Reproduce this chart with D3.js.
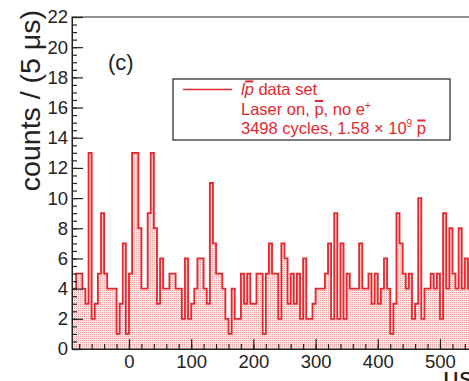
<!DOCTYPE html>
<html><head><meta charset="utf-8">
<script src="https://cdn.jsdelivr.net/npm/d3@7"></script>
<style>
body{margin:0;background:#fff;overflow:hidden}
svg{display:block;font-family:"Liberation Sans",Arial,Helvetica,sans-serif}
</style>
</head><body>
<svg id="chart" width="469" height="381"></svg>
<script>
// ---- data ----
const binStart = -95;          // μs, lower edge of first bin
const binWidth = 5;            // μs
const counts = [
  4, 4, 5, 5, 4, 3,13, 2, 3, 5, 9, 5, 4, 4, 4, 1, 3, 7, 1,   // -95 .. -5
  5,13,13, 8, 4, 4, 9,13, 8, 3, 6, 4, 4, 5, 5, 4, 4, 2, 6, 2, // 0 .. 95
  3, 4, 6, 6, 4, 3,11, 7, 5, 5, 4, 2, 1, 4, 2, 2, 5, 3, 5, 3, // 100 .. 195
  3, 5, 5, 1, 5, 7, 5, 5, 2, 7, 6, 3, 5, 3, 5, 2, 6, 2, 2, 3, // 200 .. 295
  4, 4, 4, 5, 7, 2, 9, 2, 7, 2, 5, 4, 4, 4, 7, 4, 4, 5, 3, 5, // 300 .. 395
  3, 4, 6, 4, 1, 3, 9, 7, 5, 4, 5, 2, 3,10, 2, 4, 4, 5, 4, 5, // 400 .. 495
  2, 9, 4, 8, 5, 4, 8, 4, 6, 4, 4, 5                          // 500 .. 555
];
const yMajor = [0,2,4,6,8,10,12,14,16,18,20,22];
const xMajor = [0,100,200,300,400,500,600];
const legendLines = ["data set", "Laser on, ", "3498 cycles, 1.58 × 10"];

// ---- layout ----
const svg = d3.select("#chart");
const L = 72, T = 17, B = 349;
const xMin = -91.6, xMax = 620;
const x = d3.scaleLinear().domain([xMin, xMax]).range([L, L + 0.622 * (xMax - xMin)]);
const y = d3.scaleLinear().domain([0, 22]).range([B, T]);
const R = x(xMax);
const red = "#e5262d";
const ink = "#222";

// dotted fill pattern
const defs = svg.append("defs");
const pat = defs.append("pattern").attr("id","dots").attr("patternUnits","userSpaceOnUse")
  .attr("width",2).attr("height",2);
pat.append("rect").attr("width",2).attr("height",2).attr("fill","#fbe6e6");
pat.append("rect").attr("width",1).attr("height",1).attr("fill","#ef9f9f");
defs.append("clipPath").attr("id","plot").append("rect")
  .attr("x",L).attr("y",T).attr("width",R-L).attr("height",B-T);

// histogram
const pts = counts.map((c,i)=>({e: binStart + i*binWidth, c}));
pts.push({e: binStart + counts.length*binWidth, c: counts[counts.length-1]});
const g = svg.append("g").attr("clip-path","url(#plot)");
g.append("path").datum(pts)
  .attr("d", d3.area().curve(d3.curveStepAfter).x(d=>x(d.e)).y0(y(0)).y1(d=>y(d.c)))
  .attr("fill","url(#dots)");
g.append("path").datum(pts)
  .attr("d", d3.line().curve(d3.curveStepAfter).x(d=>x(d.e)).y(d=>y(d.c)))
  .attr("fill","none").attr("stroke",red).attr("stroke-width",1.8);

// frame
svg.append("rect").attr("x",L).attr("y",T).attr("width",R-L).attr("height",B-T)
  .attr("fill","none").attr("stroke",ink).attr("stroke-width",1);

// y axis
const yMinor = d3.range(0, 22.01, 0.5);
svg.append("g").attr("transform",`translate(${L},0)`)
  .call(d3.axisLeft(y).tickValues(yMinor).tickSizeInner(-5).tickSizeOuter(0).tickFormat(""));
svg.append("g").attr("transform",`translate(${L},0)`)
  .call(d3.axisLeft(y).tickValues(yMajor).tickSizeInner(-11).tickSizeOuter(0).tickPadding(4).tickFormat(d3.format("d")));
// x axis
const xMinor = d3.range(-80, 601, 20);
svg.append("g").attr("transform",`translate(0,${B})`)
  .call(d3.axisBottom(x).tickValues(xMinor).tickSizeInner(-5).tickSizeOuter(0).tickFormat(""));
svg.append("g").attr("transform",`translate(0,${B})`)
  .call(d3.axisBottom(x).tickValues(xMajor).tickSizeInner(-10).tickSizeOuter(0).tickPadding(6).tickFormat(d3.format("d")));
svg.selectAll(".domain").attr("stroke",ink);
svg.selectAll(".tick line").attr("stroke",ink).attr("stroke-width",1.2);
svg.selectAll(".tick text").attr("fill",ink).attr("font-size",18.5)
  .attr("font-family",'"Liberation Sans",Arial,sans-serif');

// axis titles
svg.append("text").attr("transform","translate(40,10) rotate(-90)")
  .attr("text-anchor","end").attr("font-size",28.5).attr("fill",ink)
  .text("counts / (5 μs)");
svg.append("text").attr("x",443).attr("y",387).attr("font-size",28).attr("fill",ink).text("μs");

// panel label
svg.append("text").attr("x",108).attr("y",70).attr("font-size",22).attr("fill",ink).text("(c)");

// legend
svg.append("rect").attr("x",173).attr("y",79).attr("width",277).attr("height",61)
  .attr("fill","#fff").attr("stroke",ink).attr("stroke-width",1.2);
svg.append("line").attr("x1",183).attr("x2",232).attr("y1",89.5).attr("y2",89.5)
  .attr("stroke",red).attr("stroke-width",1.6);

const fs = 16.5;
const lg = svg.append("g").attr("fill",red).attr("font-size",fs);
const bars = [];
// line 1
const t1 = lg.append("text").attr("x",241).attr("y",95);
t1.append("tspan").attr("font-style","italic").text("lp");
t1.append("tspan").text(" " + legendLines[0]);
bars.push([t1, 1]);
// line 2
const t2 = lg.append("text").attr("x",241).attr("y",114.5);
t2.append("tspan").text(legendLines[1]);
t2.append("tspan").text("p");
t2.append("tspan").text(", no e");
t2.append("tspan").attr("font-size",10).attr("dy",-6).text("+");
bars.push([t2, legendLines[1].length]);
// line 3
const t3 = lg.append("text").attr("x",241).attr("y",134);
t3.append("tspan").text(legendLines[2]);
t3.append("tspan").attr("font-size",10).attr("dy",-7).text("9");
t3.append("tspan").attr("dy",7).text(" p");
bars.push([t3, legendLines[2].length + 2]);

bars.forEach(([t, idx])=>{
  const e = t.node().getExtentOfChar(idx);
  lg.append("rect").attr("x", e.x + 0.5).attr("y", e.y + 0.5)
    .attr("width", Math.max(e.width - 1, 6)).attr("height", 2).attr("fill", red);
});
</script>
</body></html>
